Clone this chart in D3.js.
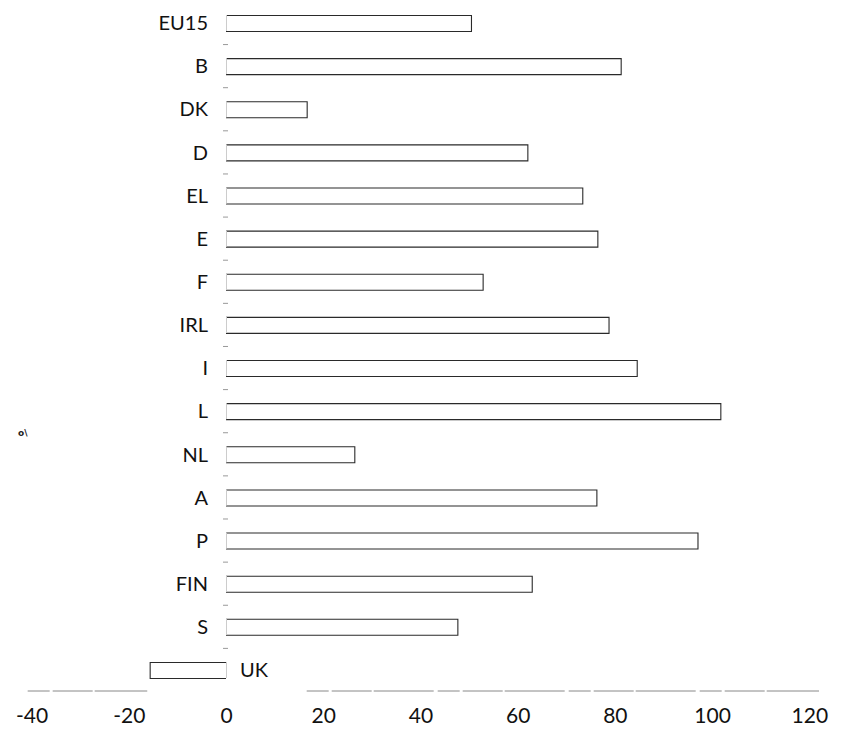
<!DOCTYPE html>
<html>
<head>
<meta charset="utf-8">
<script src="https://cdn.jsdelivr.net/npm/d3@7"></script>
<style>
  html, body { margin: 0; padding: 0; background: #fff; }
  svg { display: block; }
</style>
</head>
<body>
<svg id="chart" width="844" height="738"></svg>
<script>
// ---- data ----
const categories = ["EU15", "B", "DK", "D", "EL", "E", "F", "IRL", "I", "L", "NL", "A", "P", "FIN", "S", "UK"];
const values = [50.5, 81.3, 16.7, 62.1, 73.4, 76.5, 52.9, 78.8, 84.6, 101.8, 26.5, 76.3, 97.1, 63.0, 47.7, -15.6];
const tickValues = [-40, -20, 0, 20, 40, 60, 80, 100, 120];

// ---- layout ----
const svg = d3.select("#chart");
const x = d3.scaleLinear().domain([0, 120]).range([226, 809.3]);
const step = 43.13, bh = 16;
const pInner = 1 - bh / step;
const yTop = 15 - step * pInner / 2;
const y = d3.scaleBand().domain(categories)
  .range([yTop, yTop + step * categories.length])
  .paddingInner(pInner).paddingOuter(pInner / 2);

const data = categories.map((c, i) => ({ c, v: values[i] }));

// small tick dashes between categories at zero
const gaps = categories.slice(0, -1);
svg.append("g").selectAll("line").data(gaps).join("line")
  .attr("x1", x(0) - 3).attr("x2", x(0) + 2)
  .attr("y1", d => y(d) + y.bandwidth() + (y.step() - y.bandwidth()) / 2)
  .attr("y2", d => y(d) + y.bandwidth() + (y.step() - y.bandwidth()) / 2)
  .attr("stroke", "#999").attr("stroke-width", 1);

// bars: top, value end and bottom edges
const bars = svg.append("g");
bars.selectAll("path").data(data).join("path")
  .attr("d", d => {
    const x0 = x(0), x1 = x(d.v), t = y(d.c) + 0.5, b = y(d.c) + y.bandwidth() + 0.5;
    return `M${x0},${t}H${x1}V${b}H${x0}`;
  })
  .attr("fill", "#fff")
  .attr("stroke", "#2a2a2a")
  .attr("stroke-width", 1.1);
// faint start edge
bars.selectAll("line").data(data).join("line")
  .attr("x1", x(0) + 0.5).attr("x2", x(0) + 0.5)
  .attr("y1", d => y(d.c)).attr("y2", d => y(d.c) + y.bandwidth())
  .attr("stroke", "#ccc").attr("stroke-width", 1);

// category labels
svg.append("g").selectAll("text").data(data).join("text")
  .attr("x", d => d.v >= 0 ? x(0) - 18 : x(0) + 14)
  .attr("y", d => y(d.c) + y.bandwidth() / 2)
  .attr("dy", "0.36em")
  .attr("text-anchor", d => d.v >= 0 ? "end" : "start")
  .attr("font-family", "Lato, 'Open Sans', sans-serif")
  .attr("font-size", 20)
  .attr("fill", "#111")
  .text(d => d.c);

// x axis baseline (broken, as in the scan)
const axisY = 691;
const segs = [[-40.8, -16.2], [16.6, 122]];
svg.append("g").selectAll("line").data(segs).join("line")
  .attr("x1", d => x(d[0])).attr("x2", d => x(d[1]))
  .attr("y1", axisY).attr("y2", axisY)
  .attr("stroke", "#888").attr("stroke-width", 1)
  .attr("stroke-dasharray", "22,3,40,2,60,4");

// tick labels
const axis = d3.axisBottom(x).tickValues(tickValues).tickSize(0).tickPadding(0)
  .tickFormat(d3.format("d"));
const gAxis = svg.append("g").attr("transform", `translate(0,${axisY + 17})`).call(axis);
gAxis.select(".domain").remove();
gAxis.selectAll("text")
  .attr("font-family", "Lato, 'Open Sans', sans-serif")
  .attr("font-size", 21)
  .attr("fill", "#111")
  .text(d => String(d).replace("-", "-"));

// stray mark from the scanned original
svg.append("text").attr("x", 18).attr("y", 436)
  .attr("font-family", "DejaVu Sans, sans-serif").attr("font-size", 9)
  .attr("font-weight", "bold").attr("fill", "#222").text("o\\");
</script>
</body>
</html>
